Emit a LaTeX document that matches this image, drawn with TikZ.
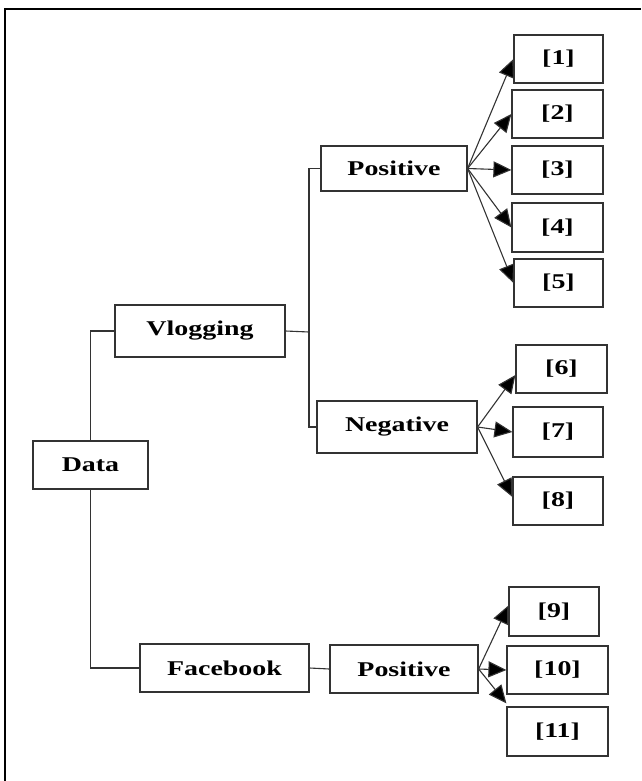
\documentclass[tikz,border=0pt]{standalone}
\usepackage{fontspec}
\setmainfont{Liberation Serif}[FakeStretch=1.33]
\usetikzlibrary{arrows.meta,calc}
\begin{document}
\begin{tikzpicture}[x=1pt,y=-1pt,
  box/.style={draw=black!80,line width=1.2pt,inner sep=0pt,font=\fontsize{21}{24}\selectfont\bfseries,text=black},
  link/.style={draw=black!80,line width=1.1pt},
  arr/.style={draw=black!80,line width=1.1pt,-{Triangle[length=18pt,width=16pt,fill=black]}}]
\useasboundingbox (0,0) rectangle (641,781);
\draw[line width=2pt] (5,781) -- (5,9) -- (641,9);
% boxes: corners given as (x1,y1)-(x2,y2)
\newcommand{\bx}[6]{\node[box,minimum width=#4-#2,minimum height=#5-#3] (#1) at ({(#2+#4)/2},{(#3+#5)/2}) {#6};}
\bx{data}{33}{441}{148}{489}{Data}
\bx{vlog}{115}{305}{285}{357}{Vlogging}
\bx{fb}{140}{644}{309}{692}{Facebook}
\bx{posv}{321}{146}{467}{191}{Positive}
\bx{neg}{317}{401}{477}{453}{Negative}
\bx{posf}{330}{645}{478}{693}{Positive}
\bx{n1}{514}{35}{603}{83}{[1]}
\bx{n2}{512}{90}{603}{138}{[2]}
\bx{n3}{512}{146}{603}{194}{[3]}
\bx{n4}{512}{203}{603}{252}{[4]}
\bx{n5}{514}{259}{603}{307}{[5]}
\bx{n6}{516}{345}{607}{393}{[6]}
\bx{n7}{513}{407}{603}{457}{[7]}
\bx{n8}{513}{477}{603}{525}{[8]}
\bx{n9}{509}{587}{599}{636}{[9]}
\bx{n10}{507}{646}{608}{694}{[10]}
\bx{n11}{507}{707}{608}{756}{[11]}
% tree connectors
\coordinate (jv) at (309,332);
\draw[link] (data.north) |- (vlog.west);
\draw[link] (data.south) |- (fb.west);
\draw[link] (vlog.east) -- (jv);
\draw[link] (posv.west) -| (jv) |- (neg.west);
\draw[link] (fb.east) -- (posf.west);
% arrows
\foreach \t in {n1,n2,n3,n4,n5} \draw[arr] (posv.east) -- (\t.west);
\draw[arr] (neg.east) -- ($(n6.west)+(0,6)$);
\draw[arr] (neg.east) -- (n7.west);
\draw[arr] (neg.east) -- ($(n8.west)+(0,-4)$);
\draw[arr] (posf.east) -- ($(n9.west)+(0,-6)$);
\draw[arr] (posf.east) -- (n10.west);
\draw[arr] (posf.east) -- ($(n11.north west)+(0,-3)$);
\end{tikzpicture}
\end{document}
